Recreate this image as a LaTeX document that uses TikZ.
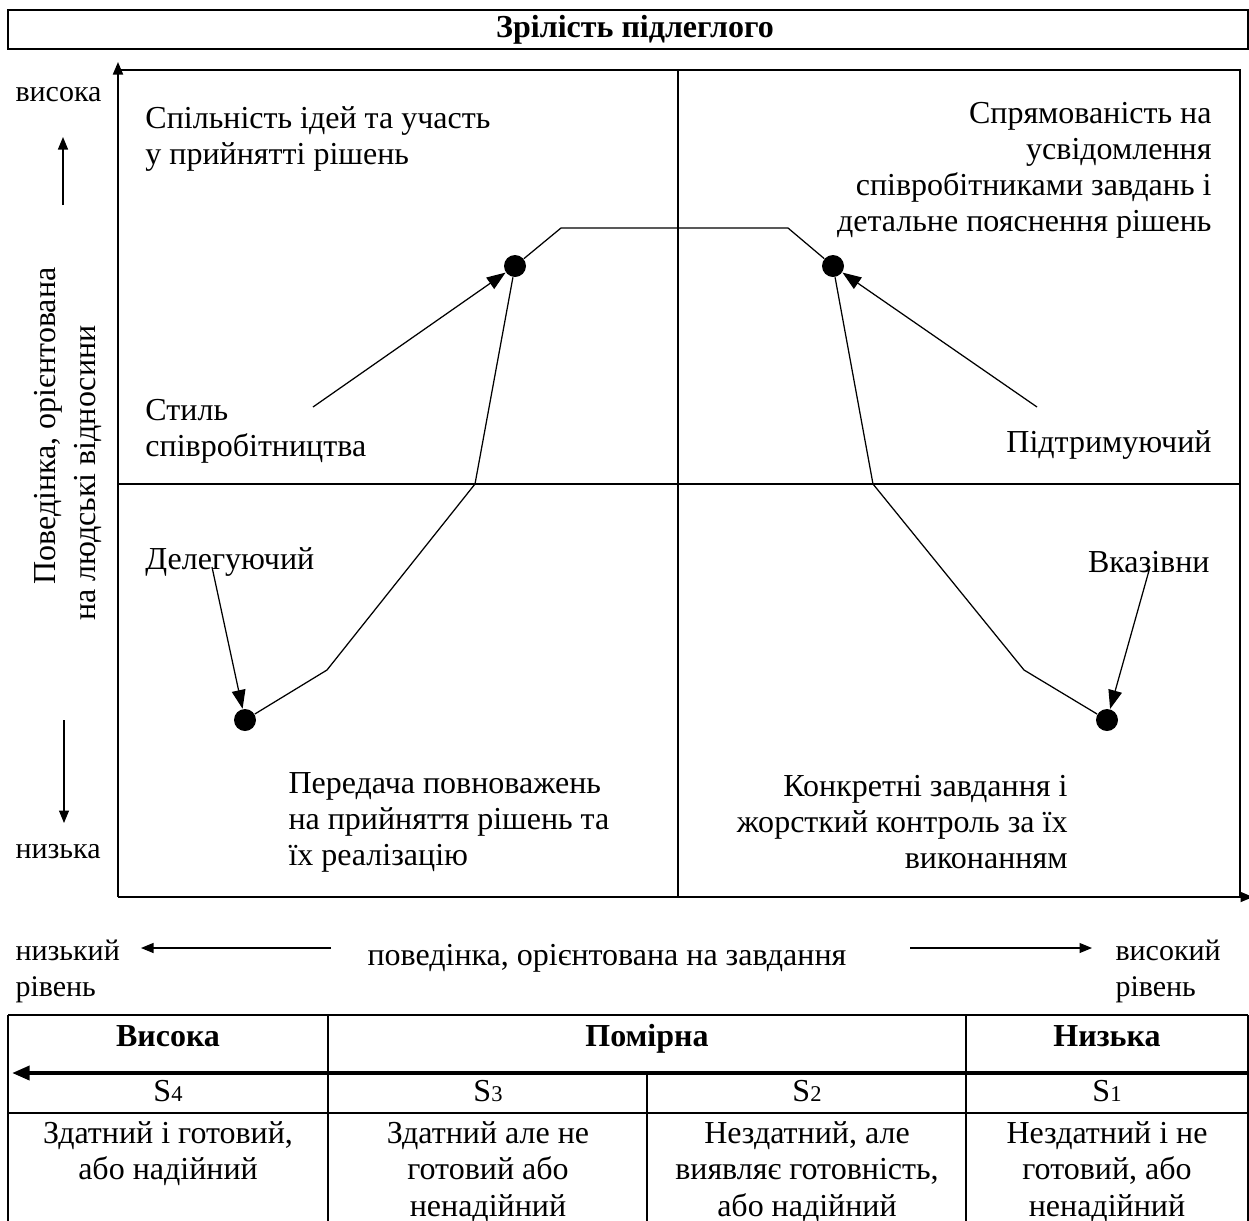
\documentclass[tikz,border=0pt]{standalone}
\usepackage{fontspec}
\setmainfont{Liberation Serif}
\usetikzlibrary{arrows.meta,shapes}
\tikzstyle{bigdot}=[circle,fill=black,minimum size=8.8pt,inner sep=0pt]
\tikzstyle{track}=[draw,line width=0.5pt]
\tikzstyle{frameline}=[draw,line width=0.7pt]
\tikzstyle{pointer}=[draw,line width=0.5pt,-{Triangle[length=7.5pt,width=5.5pt]}]
\tikzstyle{axisarrow}=[draw,line width=0.5pt,-{Triangle[length=5pt,width=4pt]}]
\tikzstyle{txt}=[font=\fontsize{12.8}{14.4}\selectfont,inner sep=0pt]
\tikzstyle{sidetxt}=[font=\fontsize{12}{14.4}\selectfont,inner sep=0pt]
\tikzstyle{boldtxt}=[font=\bfseries\fontsize{12.8}{14.4}\selectfont,inner sep=0pt]
\tikzstyle{cell}=[font=\fontsize{12.8}{14.6}\selectfont,inner sep=0pt,align=center]
\newcommand{\lvl}[1]{S{\fontsize{9}{10}\selectfont #1}}

\begin{document}
\begin{tikzpicture}[x=0.4pt,y=-0.4pt]

    \useasboundingbox (0,0) rectangle (1249,1221);

    % title bar
    \draw[frameline] (8,10) rectangle (1248,49);
    \node[boldtxt] (title) at (635,30) {Зрілість підлеглого};

    % frame and axes
    \draw[frameline] (118,70) -- (1240,70) -- (1240,897);
    \draw[frameline] (678,70) -- (678,897);
    \draw[frameline] (118,484) -- (1240,484);
    \draw[frameline,-{Triangle[length=5pt,width=4pt]}] (118,897) -- (118,62);
    \draw[frameline,-{Triangle[length=5pt,width=4pt]}] (118,897) -- (1253,897);

    % left side
    \node[sidetxt, anchor=west] (high) at (15,95) {висока};
    \node[sidetxt, anchor=west] (low) at (15,852) {низька};
    \node[txt, rotate=90] (ylab1) at (48,426) {Поведінка, орієнтована};
    \node[txt, rotate=90] (ylab2) at (88,473) {на людські відносини};
    \foreach \x/\y/\name in {63/205/u0, 63/137/u1, 64/720/w0, 64/823/w1}
        \coordinate (\name) at (\x,\y);
    \path[axisarrow] (u0) -- (u1);
    \path[axisarrow] (w0) -- (w1);

    % quadrant texts
    \node[txt, anchor=west, align=left] (q2) at (145,139) {Спільність ідей та участь\\у прийнятті рішень};
    \node[txt, anchor=east, align=right] (q1) at (1212,170) {Спрямованість на\\усвідомлення\\співробітниками завдань і\\детальне пояснення рішень};
    \node[txt, anchor=west, align=left] (q3) at (288,822) {Передача повноважень\\на прийняття рішень та\\їх реалізацію};
    \node[txt, anchor=east, align=right] (q4) at (1068,822) {Конкретні завдання і\\жорсткий контроль за їх\\виконанням};

    % style names
    \node[txt, anchor=west, align=left] (st3) at (145,431) {Стиль\\співробітництва};
    \node[txt, anchor=east] (st2) at (1212,445) {Підтримуючий};
    \node[txt, anchor=west] (st4) at (145,562) {Делегуючий};
    \node[txt, anchor=east] (st1) at (1210,562) {Вказівни};

    % life cycle curve
    \foreach \x/\y/\name in {245/720/d4, 515/266/d3, 833/266/d2, 1107/720/d1}
        \node[bigdot] (\name) at (\x,\y) {};
    \foreach \x/\y/\name in {327/670/b1, 475/484/b2, 561/228/b3, 788/228/b4, 873/484/b5, 1024/670/b6}
        \coordinate (\name) at (\x,\y);
    \path[track] (d4) -- (b1) -- (b2) -- (d3) -- (b3) -- (b4) -- (d2) -- (b5) -- (b6) -- (d1);

    \foreach \x/\y/\name/\dest in {212/567/t4/d4, 313/407/t3/d3, 1037/407/t2/d2, 1150/567/t1/d1} {
        \coordinate (\name) at (\x,\y);
        \path[pointer] (\name) -- (\dest);
    }

    % task axis
    \node[sidetxt, anchor=west, align=left] (lowlev) at (15,971) {низький\\рівень};
    \node[txt, anchor=west] (task) at (367,958) {поведінка, орієнтована на завдання};
    \node[sidetxt, anchor=west, align=left] (highlev) at (1115,971) {високий\\рівень};
    \foreach \x/\y/\name in {331/948/l0, 141/948/l1, 910/948/r0, 1092/948/r1}
        \coordinate (\name) at (\x,\y);
    \path[axisarrow] (l0) -- (l1);
    \path[axisarrow] (r0) -- (r1);

    % maturity table
    \draw[frameline] (8,1015) -- (1248,1015);
    \draw[frameline] (8,1113) -- (1248,1113);
    \foreach \x in {8, 328, 966, 1248}
        \draw[frameline] (\x,1015) -- (\x,1225);
    \draw[frameline] (647,1073) -- (647,1225);
    \draw[line width=1.6pt,-{Triangle[length=7pt,width=5.5pt]}] (1248,1073) -- (12,1073);

    \foreach \x/\name/\word in {168/mhigh/Висока, 647/mmid/Помірна, 1107/mlow/Низька}
        \node[boldtxt, anchor=base] (\name) at (\x,1046) {\word};
    \foreach \x/\n in {168/4, 488/3, 807/2, 1107/1}
        \node[cell, anchor=base] (s\n) at (\x,1101) {\lvl{\n}};
    \foreach \x/\n/\word in {168/4/{Здатний і готовий,\\або надійний},
                             488/3/{Здатний але не\\готовий або\\ненадійний},
                             807/2/{Нездатний, але\\виявляє готовність,\\або надійний},
                             1107/1/{Нездатний і не\\готовий, або\\ненадійний}}
        \node[cell, anchor=north] (r\n) at (\x,1121) {\word};

\end{tikzpicture}
\end{document}
